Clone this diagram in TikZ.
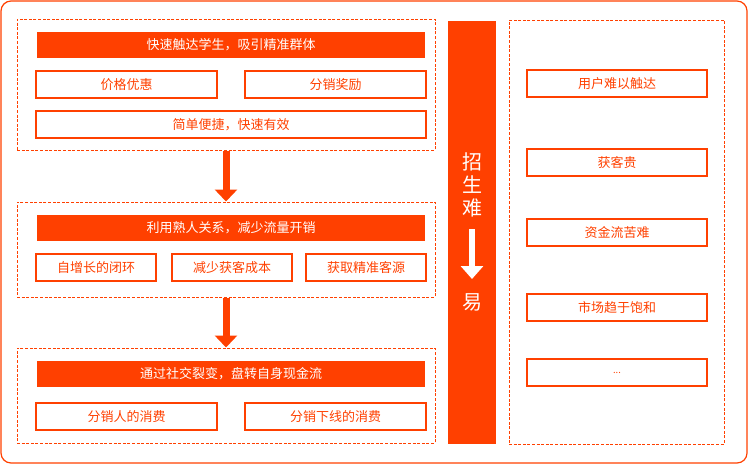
\documentclass[tikz,border=0pt]{standalone}
\usepackage{fontspec}
\setmainfont{Noto Sans CJK SC}
\usetikzlibrary{arrows.meta}
\definecolor{fire}{RGB}{255,64,0}

\begin{document}
\begin{tikzpicture}[x=0.75pt, y=-0.75pt]
\tikzset{
   every node/.style = {inner sep = 0pt, font = \fontsize{9.75pt}{11pt}\selectfont},
   group/.style = {rectangle, draw = fire, line width = 0.75pt, dash pattern = on 2.25pt off 1.2pt},
   header/.style = {rectangle, fill = fire, text = white, minimum width = 291pt, minimum height = 19.5pt},
   item/.style = {rectangle, draw = fire, line width = 0.9pt, text = fire, minimum height = 20.25pt},
   fat/.style = {draw = fire, line width = 5.25pt, -{Triangle[width = 16.5pt, length = 9pt]}}
}
\useasboundingbox (0,0) rectangle (748,464);
\draw[fire, line width = 0.9pt, rounded corners = 7.5pt] (1,1) rectangle (747,463);

% left column
\node[group, minimum width = 313.5pt, minimum height = 98.25pt] (step1) at (226,84.5) {};
\node[group, minimum width = 313.5pt, minimum height = 71.25pt] (step2) at (226,249.5) {};
\node[group, minimum width = 313.5pt, minimum height = 71.25pt] (step3) at (226,395.5) {};

\node[header] (head1) at (231,45) {快速触达学生，吸引精准群体};
\node[item, minimum width = 135.75pt] (price) at (126.5,84.5) {价格优惠};
\node[item, minimum width = 135.75pt] (reward) at (335.5,84.5) {分销奖励};
\node[item, minimum width = 292.5pt] (simple) at (231,124.5) {简单便捷，快速有效};

\node[header] (head2) at (231,228) {利用熟人关系，减少流量开销};
\node[item, minimum width = 90pt] (loop) at (96,267.5) {自增长的闭环};
\node[item, minimum width = 90pt] (cost) at (232,267.5) {减少获客成本};
\node[item, minimum width = 90pt] (source) at (366,267.5) {获取精准客源};

\node[header] (head3) at (231,374) {通过社交裂变，盘转自身现金流};
\node[item, minimum width = 135.75pt] (seller) at (126.5,416.5) {分销人的消费};
\node[item, minimum width = 135.75pt] (down) at (335.5,416.5) {分销下线的消费};

\draw[fat] (step1.south) -- (step2.north);
\draw[fat] (step2.south) -- (step3.north);

% middle bar
\node[rectangle, fill = fire, minimum width = 36pt, minimum height = 317.25pt] (bar) at (472,232.5) {};
\node[text = white, font = \fontsize{15pt}{15pt}\selectfont] (hard) at (472,185)
     {\shortstack{招\\[1pt]生\\[1pt]难}};
\node[text = white, font = \fontsize{15pt}{15pt}\selectfont] (easy) at (472,302) {易};
\coordinate (top) at (472,229);
\coordinate (tip) at (472,279);
\draw[white, line width = 5pt, -{Triangle[width = 16.5pt, length = 9.75pt]}] (top) -- (tip);

% right column
\node[group, minimum width = 161.25pt, minimum height = 318pt] (issues) at (616.5,232) {};
\node[item, minimum width = 135pt] (reach) at (617,83.5) {用户难以触达};
\node[item, minimum width = 135pt] (pricey) at (617,162.5) {获客贵};
\node[item, minimum width = 135pt] (cash) at (617,232.5) {资金流苦难};
\node[item, minimum width = 135pt] (full) at (617,307.5) {市场趋于饱和};
\node[item, minimum width = 135pt, font = \fontsize{7pt}{8pt}\selectfont] (more) at (617,372.5) {...};

\end{tikzpicture}
\end{document}
